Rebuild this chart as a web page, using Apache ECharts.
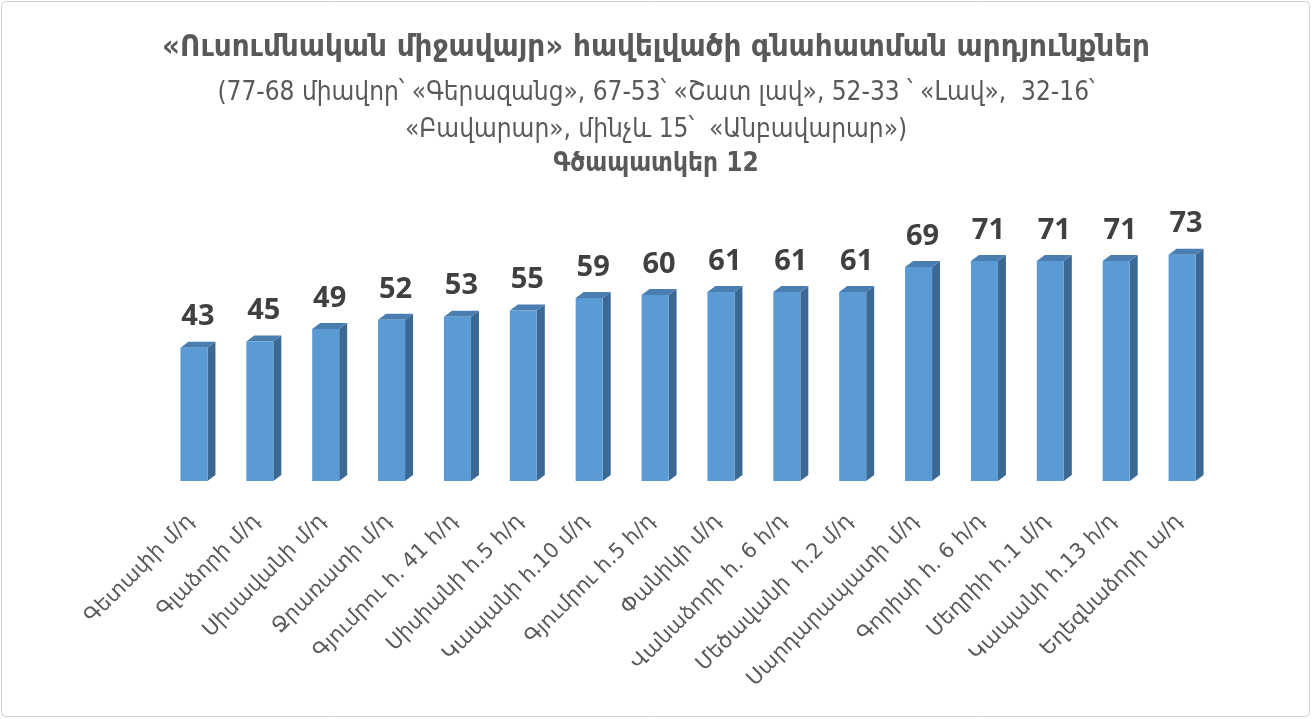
<!DOCTYPE html>
<html><head><meta charset="utf-8">
<script src="https://cdn.jsdelivr.net/npm/echarts@6/dist/echarts.min.js"></script>
<style>html,body{margin:0;padding:0;background:#fff}#c{width:1312px;height:719px}</style>
</head><body><div id="c"></div>
<script>
const categories = ['Գետափի մ/դ','Գլաձորի մ/դ','Սիսավանի մ/դ','Ջրառատի մ/դ','Գյումրու հ. 41 հ/դ','Սիսիանի հ.5 հ/դ','Կապանի հ.10 մ/դ','Գյումրու հ.5 հ/դ','Փանիկի մ/դ','Վանաձորի հ. 6 հ/դ','Մեծավանի  հ.2 մ/դ','Սարդարապատի մ/դ','Գորիսի հ. 6 հ/դ','Մեղրիի հ.1 մ/դ','Կապանի հ.13 հ/դ','Եղեգնաձորի ա/դ'];
const values = [43,45,49,52,53,55,59,60,61,61,61,69,71,71,71,73];
const titleMain = '«Ուսումնական միջավայր» հավելվածի գնահատման արդյունքներ';
const subtitle1 = '(77-68 միավոր՝ «Գերազանց», 67-53՝ «Շատ լավ», 52-33 ՝ «Լավ»,  32-16՝';
const subtitle2 = '«Բավարար», մինչև 15՝  «Անբավարար»)';
const figLabel = 'Գծապատկեր 12';

const chart = echarts.init(document.getElementById('c'));
const DX = 8, DY = 6;
const F = '"DejaVu Sans Condensed", "DejaVu Sans"';
chart.setOption({
  animation:false,
  graphic:[
    {type:'rect',shape:{x:1.5,y:1.5,width:1308,height:715,r:4},style:{fill:'none',stroke:'#d0d0d0',lineWidth:1}},
    {type:'text',left:'center',top:32,style:{text:titleMain,font:'bold 31px '+F,fill:'#595959'}},
    {type:'text',left:'center',top:80,style:{text:subtitle1,font:'26px '+F,fill:'#595959'}},
    {type:'text',left:'center',top:117,style:{text:subtitle2,font:'26px '+F,fill:'#595959'}},
    {type:'text',left:'center',top:151,style:{text:figLabel,font:'bold 26px '+F,fill:'#595959'}}
  ],
  grid:{left:165,right:93,top:233,bottom:238},
  xAxis:{type:'category',data:categories,axisLine:{show:false},axisTick:{show:false},
    axisLabel:{rotate:45,interval:0,margin:30,color:'#595959',fontSize:21,fontFamily:'"DejaVu Sans"',padding:[0,10,12,0]}},
  yAxis:{type:'value',min:0,max:80,show:false,splitLine:{show:false}},
  series:[{
    type:'custom',
    data:values.map((v,i)=>[i,v]),
    renderItem:function(params,api){
      const i=api.value(0), v=api.value(1);
      const top=api.coord([i,v]), base=api.coord([i,0]);
      const bw=api.size([1,0])[0]*0.41;
      const x0=top[0]-bw/2-DX/2, x1=x0+bw;
      const yt=top[1], yb=base[1];
      return {type:'group',children:[
        {type:'polygon',shape:{points:[[x1,yt],[x1+DX,yt-DY],[x1+DX,yb-DY],[x1,yb]]},style:{fill:'#3b6994'}},
        {type:'polygon',shape:{points:[[x0,yt],[x0+DX,yt-DY],[x1+DX,yt-DY],[x1,yt]]},style:{fill:'#4a7db0'}},
        {type:'rect',shape:{x:x0,y:yt,width:bw,height:yb-yt},style:{fill:'#5b9bd5'}},
        {type:'text',style:{text:String(v),x:top[0],y:yt-DY-10,align:'center',verticalAlign:'bottom',font:'bold 29px "Open Sans", "DejaVu Sans"',fill:'#404040'}}
      ]};
    }
  }]
});
</script></body></html>
